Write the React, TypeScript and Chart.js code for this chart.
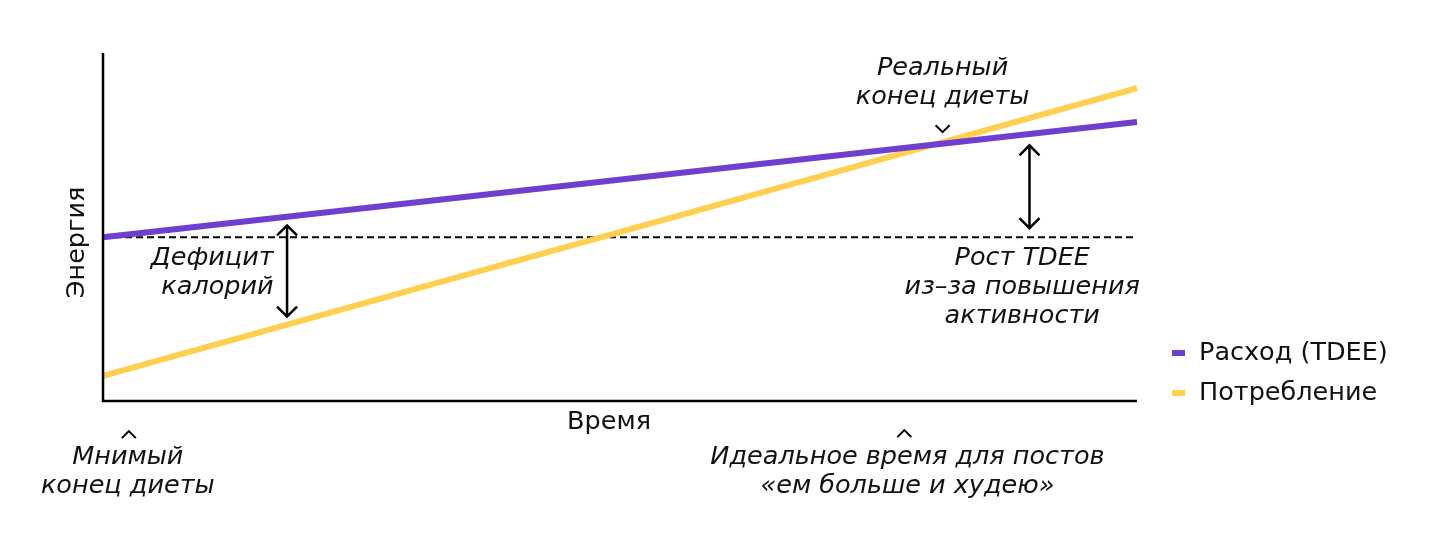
import React, { useEffect, useRef } from "react";
import { Chart, registerables } from "chart.js";

Chart.register(...registerables);

// ---- data ----
const timePoints = [0, 100];
const tdeeValues = [47.2, 80.6];
const intakeValues = [7.0, 90.4];
const baselineValues = [47.2, 47.2];
const seriesLabels = ["Расход (TDEE)", "Потребление"];
const xAxisTitle = "Время";
const yAxisTitle = "Энергия";

// annotations (data units)
const arrowX = [17.8, 89.6];
const arrowTop = [50.6, 73.8];
const arrowBottom = [24.2, 49.8];

const noteTexts = [
  ["Дефицит", "калорий"],
  ["Реальный", "конец диеты"],
  ["Рост TDEE", "из–за повышения", "активности"],
  ["Мнимый", "конец диеты"],
  ["Идеальное время для постов", "«ем больше и худею»"],
];
const noteX = [16.5, 81.2, 88.9, 2.4, 77.8];
const noteY = [41.0, 96.0, 41.0, -16.6, -16.6];
const noteAlign = ["right", "center", "center", "center", "center"];

const markX = [2.5, 81.2, 77.5];
const markY = [-9.9, 78.5, -9.6];
const markDir = ["up", "down", "up"];

const PURPLE = "#6f3fd0";
const YELLOW = "#ffd04f";

const FONT_IT = "oblique 25.5px 'DejaVu Sans'";
const FONT_REG = "25.5px 'DejaVu Sans'";

const overlayPlugin = {
  id: "overlay",
  afterDatasetsDraw(chart: any) {
    const ctx = chart.ctx;
    const { left, right, top, bottom } = chart.chartArea;
    const xs = chart.scales.x;
    const ys = chart.scales.y;
    ctx.save();
    // axes
    ctx.strokeStyle = "#000";
    ctx.lineWidth = 2.5;
    ctx.beginPath();
    ctx.moveTo(left, top - 2);
    ctx.lineTo(left, bottom + 1);
    ctx.lineTo(right, bottom + 1);
    ctx.stroke();

    // arrows
    ctx.lineWidth = 2.5;
    for (let i = 0; i < arrowX.length; i++) {
      const px = xs.getPixelForValue(arrowX[i]);
      const y1 = ys.getPixelForValue(arrowTop[i]);
      const y2 = ys.getPixelForValue(arrowBottom[i]);
      ctx.beginPath();
      ctx.moveTo(px, y1);
      ctx.lineTo(px, y2);
      ctx.moveTo(px - 10, y1 + 10);
      ctx.lineTo(px, y1);
      ctx.lineTo(px + 10, y1 + 10);
      ctx.moveTo(px - 10, y2 - 10);
      ctx.lineTo(px, y2);
      ctx.lineTo(px + 10, y2 - 10);
      ctx.stroke();
    }

    // chevrons
    ctx.lineWidth = 2;
    for (let i = 0; i < markX.length; i++) {
      const px = xs.getPixelForValue(markX[i]);
      const py = ys.getPixelForValue(markY[i]);
      ctx.beginPath();
      if (markDir[i] === "up") {
        ctx.moveTo(px - 7, py + 4);
        ctx.lineTo(px, py - 3);
        ctx.lineTo(px + 7, py + 4);
      } else {
        ctx.moveTo(px - 7, py - 4);
        ctx.lineTo(px, py + 3);
        ctx.lineTo(px + 7, py - 4);
      }
      ctx.stroke();
    }

    // notes
    ctx.fillStyle = "#111";
    ctx.font = FONT_IT;
    ctx.textBaseline = "middle";
    for (let i = 0; i < noteTexts.length; i++) {
      const px = xs.getPixelForValue(noteX[i]);
      const py = ys.getPixelForValue(noteY[i]);
      ctx.textAlign = noteAlign[i];
      noteTexts[i].forEach((t, j) => ctx.fillText(t, px, py + j * 29));
    }

    // axis titles
    ctx.font = FONT_REG;
    ctx.textAlign = "center";
    ctx.fillText(xAxisTitle, (left + right) / 2 - 11, bottom + 22);
    ctx.save();
    ctx.translate(left - 26, (top + bottom) / 2 + 15);
    ctx.rotate(-Math.PI / 2);
    ctx.fillText(yAxisTitle, 0, 0);
    ctx.restore();

    // legend
    const ds = chart.data.datasets.filter((d: any) => !d.hideLegend);
    ctx.textAlign = "left";
    ds.forEach((d: any, i: number) => {
      const ly = 353 + i * 40;
      ctx.fillStyle = d.borderColor;
      ctx.fillRect(1172, ly - 3, 13, 6);
      ctx.fillStyle = "#111";
      ctx.fillText(d.label, 1199, ly);
    });
    ctx.restore();
  },
};

export default function App() {
  const ref = useRef<HTMLCanvasElement | null>(null);
  useEffect(() => {
    document.body.style.margin = "0";
    const chart = new Chart(ref.current as HTMLCanvasElement, {
      type: "line",
      data: {
        datasets: [
          {
            label: seriesLabels[0],
            data: timePoints.map((x, i) => ({ x, y: tdeeValues[i] })),
            borderColor: PURPLE,
            borderWidth: 6,
            pointRadius: 0,
            order: 0,
          },
          {
            label: seriesLabels[1],
            data: timePoints.map((x, i) => ({ x, y: intakeValues[i] })),
            borderColor: YELLOW,
            borderWidth: 6,
            pointRadius: 0,
            order: 1,
          },
          {
            label: "baseline",
            hideLegend: true,
            data: timePoints.map((x, i) => ({ x, y: baselineValues[i] })),
            borderColor: "#000",
            borderWidth: 2,
            borderDash: [7, 4],
            pointRadius: 0,
            order: 2,
          } as any,
        ],
      },
      options: {
        animation: false,
        responsive: false,
        layout: { padding: { left: 103, right: 303, top: 55, bottom: 156 } },
        scales: {
          x: { type: "linear", min: 0, max: 100, display: false },
          y: { type: "linear", min: 0, max: 100, display: false },
        },
        plugins: { legend: { display: false }, tooltip: { enabled: false } },
        clip: false as any,
      },
      plugins: [overlayPlugin],
    });
    return () => chart.destroy();
  }, []);
  return <canvas ref={ref} width={1440} height={556} style={{ display: "block" }} />;
}
